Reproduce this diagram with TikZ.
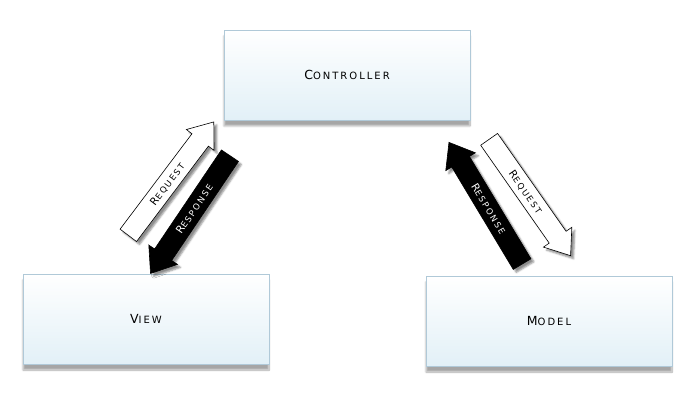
\documentclass[tikz,border=0pt]{standalone}
\usepackage{fontspec}
\newfontfamily\mvcfont[LetterSpace=20]{DejaVu Sans}
\usetikzlibrary{shapes.arrows,shadows.blur}
\definecolor{boxline}{RGB}{176,201,216}
\definecolor{boxfill}{RGB}{226,240,247}
\newcommand{\boxlabel}[2]{{\fontsize{12.5}{14}\selectfont #1}{\fontsize{10}{12}\selectfont #2}}
\newcommand{\arrowlabel}[2]{{\fontsize{10.5}{12}\selectfont #1}{\fontsize{8.5}{10}\selectfont #2}}

\begin{document}
\begin{tikzpicture}[x=1pt,y=1pt,
  part/.style={draw=boxline,line width=0.8pt,top color=white,bottom color=boxfill,
    minimum width=246pt,minimum height=90pt,font=\mvcfont,
    blur shadow={shadow xshift=0pt,shadow yshift=-6pt,shadow opacity=35,shadow blur steps=12}},
  flow/.style={single arrow,single arrow head extend=7pt,single arrow head indent=0pt,
    single arrow tip angle=75,minimum height=142pt,text height=8pt,text depth=0pt,
    inner ysep=6pt,inner xsep=3pt,line width=0.6pt,font=\mvcfont,
    blur shadow={shadow xshift=3pt,shadow yshift=-3pt,shadow opacity=45}},
  req/.style={flow,draw=black,fill=white},
  resp/.style={flow,draw=black,fill=black,text=white}]

\useasboundingbox (0,0) rectangle (700,400);

\node[part] (ctrl)  at (347,325) {\boxlabel{C}{ONTROLLER}};
\node[part] (view)  at (146,81)  {\boxlabel{V}{IEW}};
\node[part] (model) at (549,79)  {\boxlabel{M}{ODEL}};

\node[req,rotate=53]                         (vreq)  at (167,216) {\arrowlabel{R}{EQUEST}};
\node[resp,rotate=56,shape border rotate=180]  (vresp) at (194,191) {\arrowlabel{R}{ESPONSE}};
\node[resp,rotate=-59,shape border rotate=180] (mresp) at (489,191) {\arrowlabel{R}{ESPONSE}};
\node[req,rotate=-55]                        (mreq)  at (526,208) {\arrowlabel{R}{EQUEST}};
\end{tikzpicture}
\end{document}
